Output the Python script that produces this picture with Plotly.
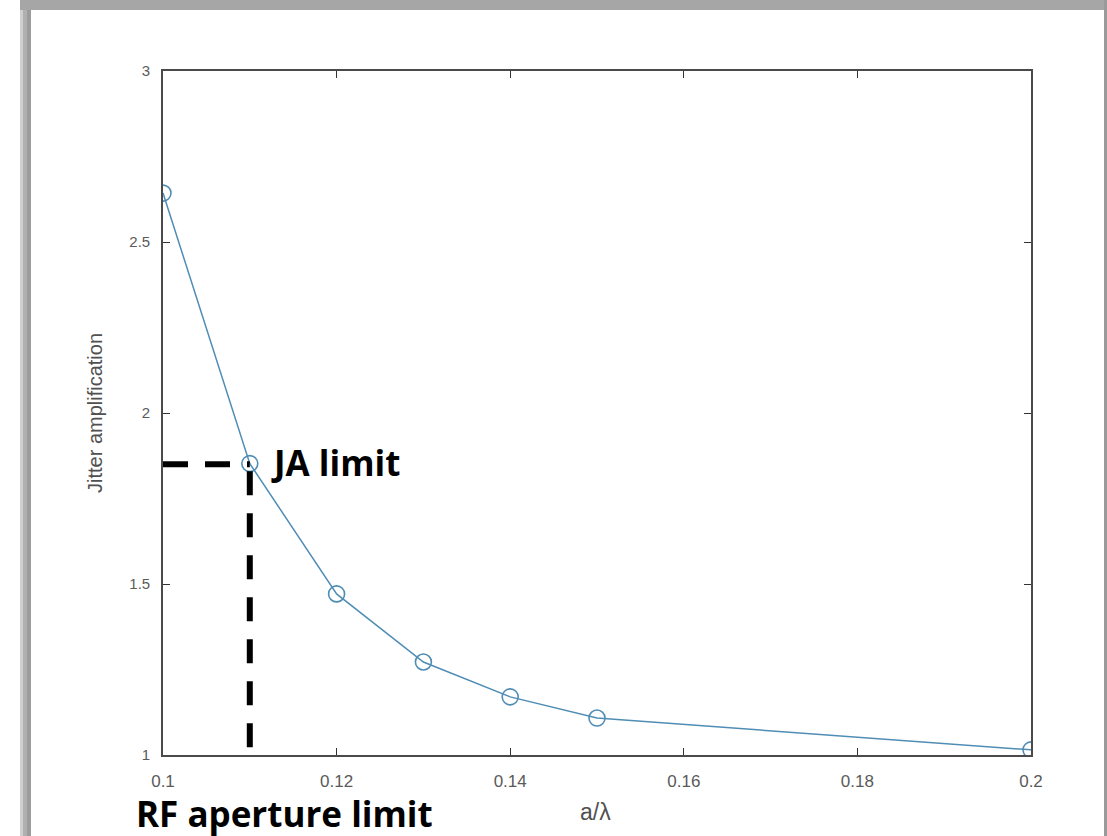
import plotly.graph_objects as go

# ---- data ----
a_over_lambda = [0.10, 0.11, 0.12, 0.13, 0.14, 0.15, 0.20]
jitter_amp = [2.643, 1.852, 1.471, 1.272, 1.170, 1.108, 1.015]

ja_limit_x = 0.11
ja_limit_y = 1.85
x_ticks = [0.1, 0.12, 0.14, 0.16, 0.18, 0.2]
x_tick_text = ["0.1", "0.12", "0.14", "0.16", "0.18", "0.2"]
y_ticks = [1, 1.5, 2, 2.5, 3]
y_tick_text = ["1", "1.5", "2", "2.5", "3"]

W, H = 1107, 836
L, R, T, B = 163, 1031, 71, 755


def px(xp):
    return (xp - L) / (R - L)


def py(yp):
    return (B - yp) / (B - T)


blue = "#4f8db5"

fig = go.Figure()

fig.add_trace(go.Scatter(
    x=a_over_lambda, y=jitter_amp, mode="lines+markers",
    line=dict(color=blue, width=1.5),
    marker=dict(symbol="circle-open", size=16, color=blue, line=dict(width=1.6, color=blue)),
    showlegend=False, hoverinfo="skip",
))

# dashed guide lines
fig.add_trace(go.Scatter(
    x=[x_ticks[0], ja_limit_x], y=[ja_limit_y, ja_limit_y], mode="lines",
    line=dict(color="black", width=6, dash="25px,17px"),
    showlegend=False, hoverinfo="skip",
))
fig.add_trace(go.Scatter(
    x=[ja_limit_x, ja_limit_x], y=[1.023, ja_limit_y], mode="lines",
    line=dict(color="black", width=6, dash="24px,18px"),
    showlegend=False, hoverinfo="skip",
))

shapes = []
# outer gray frame with a soft shadow
shapes.append(dict(type="rect", xref="paper", yref="paper",
                   x0=px(20), x1=px(1107), y0=py(836), y1=py(0),
                   fillcolor="#b4b4b4", line=dict(width=0), layer="below"))
for x0, x1, c in [(20, 23, "#cfcfcf"), (23, 27, "#b0b0b0"), (27, 31, "#9c9c9c")]:
    shapes.append(dict(type="rect", xref="paper", yref="paper",
                       x0=px(x0), x1=px(x1), y0=py(836), y1=py(10),
                       fillcolor=c, line=dict(width=0), layer="below"))
shapes.append(dict(type="rect", xref="paper", yref="paper",
                   x0=px(20), x1=px(1107), y0=py(10), y1=py(0),
                   fillcolor="#a6a6a6", line=dict(width=0), layer="below"))
shapes.append(dict(type="rect", xref="paper", yref="paper",
                   x0=px(1104), x1=px(1107), y0=py(836), y1=py(0),
                   fillcolor="#9a9a9a", line=dict(width=0), layer="below"))
shapes.append(dict(type="rect", xref="paper", yref="paper",
                   x0=px(31), x1=px(1104), y0=py(836), y1=py(10),
                   fillcolor="white", line=dict(width=0), layer="below"))

bold_font = "Open Sans, Lato, sans-serif"
plain_font = "Liberation Sans, Arial, sans-serif"

annotations = [
    dict(text="<b>JA limit</b>", x=ja_limit_x, y=ja_limit_y, xref="x", yref="y",
         xanchor="left", yanchor="middle", xshift=19, yshift=2, showarrow=False,
         font=dict(family=bold_font, size=35, color="black")),
    dict(text="<b>RF aperture limit</b>", x=px(134), y=py(813), xref="paper", yref="paper",
         xanchor="left", yanchor="middle", showarrow=False,
         font=dict(family=bold_font, size=35, color="black")),
    dict(text="a/λ", x=px(595), y=py(812), xref="paper", yref="paper",
         xanchor="center", yanchor="middle", showarrow=False,
         font=dict(family=plain_font, size=23, color="#505050")),
    dict(text="Jitter amplification", x=px(95), y=0.5, xref="paper", yref="paper",
         xanchor="center", yanchor="middle", textangle=-90, showarrow=False,
         font=dict(family=plain_font, size=20, color="#505050")),
]

axis_common = dict(
    showline=True, linecolor="#4a4a4a", linewidth=1.6, mirror="ticks",
    ticks="inside", ticklen=7, tickwidth=1.4, tickcolor="#333333",
    showgrid=False, zeroline=False,
)

fig.update_layout(
    width=W, height=H,
    margin=dict(l=L, r=W - R, t=T, b=H - B, pad=0),
    paper_bgcolor="white", plot_bgcolor="rgba(0,0,0,0)",
    xaxis=dict(range=[0.1, 0.2], tickvals=x_ticks, ticktext=x_tick_text,
               ticklabelstandoff=10,
               tickfont=dict(family=plain_font, size=17, color="#5a5a5a"),
               **axis_common),
    yaxis=dict(range=[1, 3], tickvals=y_ticks, ticktext=y_tick_text,
               ticklabelstandoff=8,
               tickfont=dict(family=plain_font, size=15, color="#5a5a5a"),
               **axis_common),
    shapes=shapes, annotations=annotations,
)

fig.write_html("out.html", config={"displayModeBar": False},
               post_script="document.body.style.margin='0';document.body.style.padding='0';")
